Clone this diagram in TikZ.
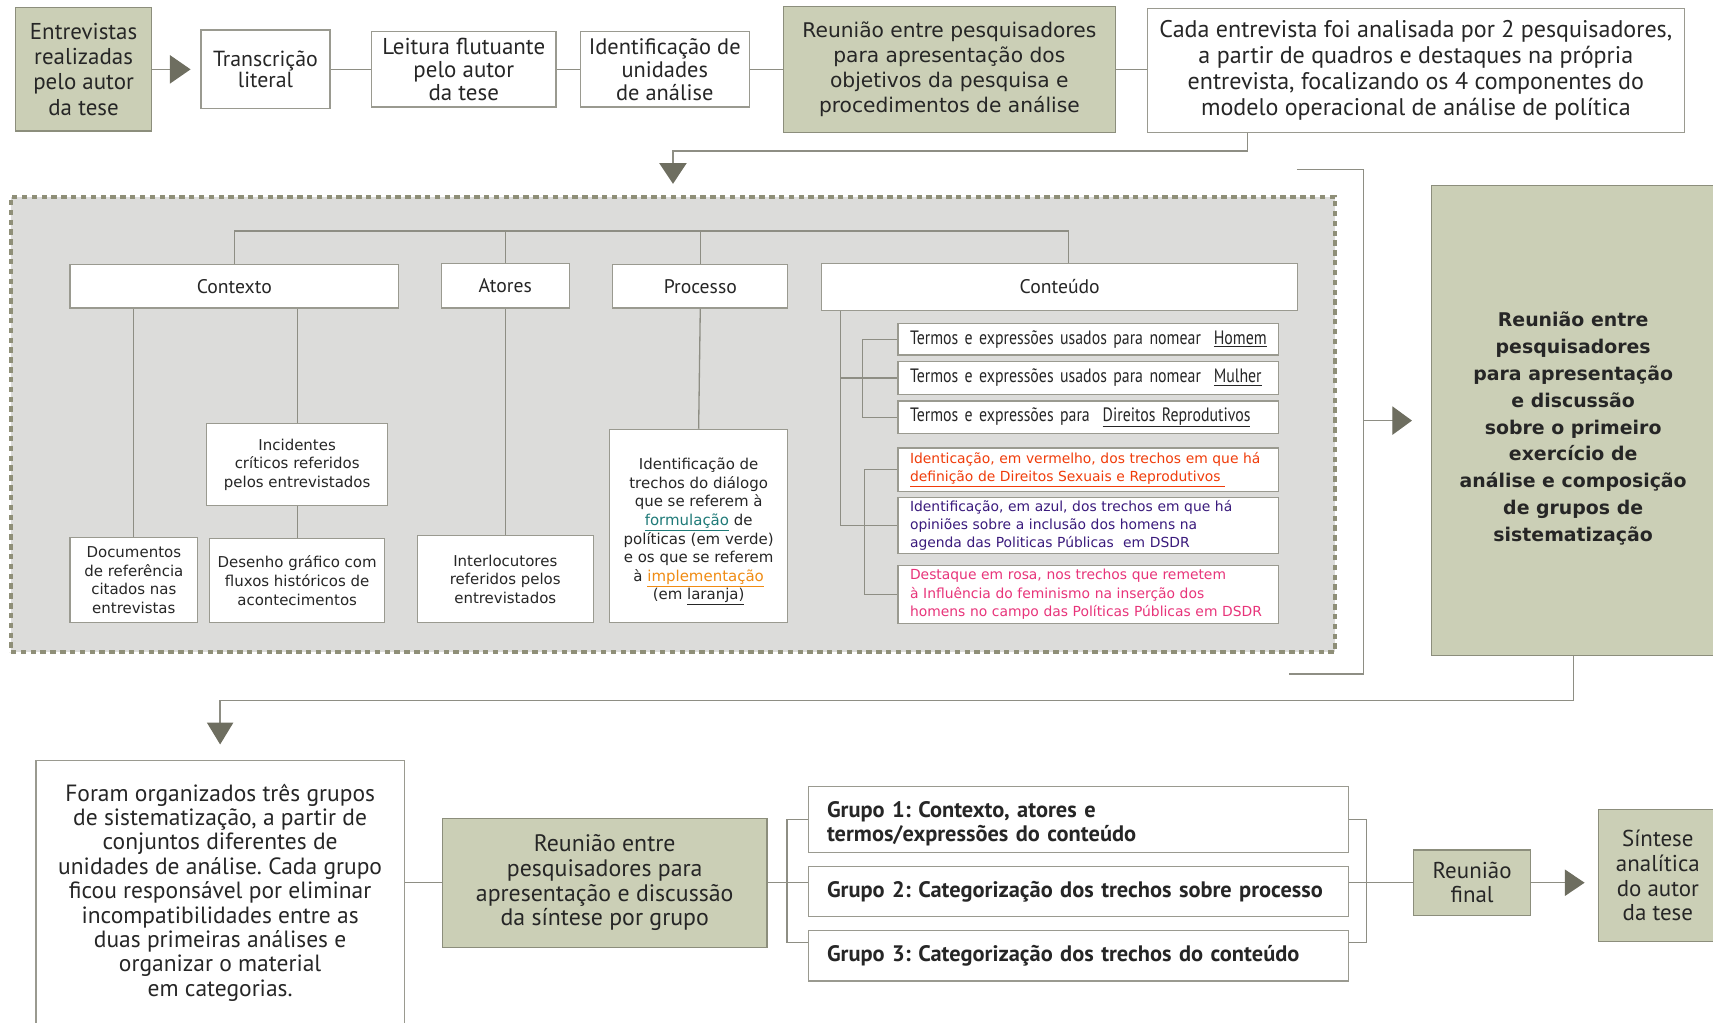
\documentclass[tikz,border=0pt]{standalone}
\usepackage{fontspec}
\setmainfont{PT Sans}
\newfontfamily\vfont{DejaVu Sans}
\newfontfamily\narrowfont[FakeStretch=0.82]{PT Sans}
\usetikzlibrary{arrows.meta}
\newcommand{\setfs}[2]{\fontsize{#1}{#2}\selectfont}
\frenchspacing
\definecolor{boxgreen}{HTML}{CBCFB6}
\definecolor{greenedge}{HTML}{8C8E7C}
\definecolor{boxedge}{HTML}{9A9A90}
\definecolor{linegray}{HTML}{8E8E84}
\definecolor{tipgray}{HTML}{6E6E60}
\definecolor{panegray}{HTML}{DCDCDA}
\definecolor{panedash}{HTML}{8F8F78}
\definecolor{inkdark}{HTML}{262626}
\definecolor{txtred}{HTML}{F03C0A}
\definecolor{txtpurple}{HTML}{3A1A7C}
\definecolor{txtpink}{HTML}{E8347A}
\definecolor{txtteal}{HTML}{1F7A78}
\definecolor{txtorange}{HTML}{F08C14}
\tikzset{
  wbox/.style={draw=boxedge,fill=white,line width=1.1pt,inner sep=0pt,align=center,text=inkdark},
  gbox/.style={draw=greenedge,fill=boxgreen,line width=1.1pt,inner sep=0pt,align=center,text=inkdark},
  lbox/.style={wbox,align=left,inner xsep=11pt,text width=326pt},
  gtext/.style={wbox,align=left,inner xsep=17pt,text width=460pt,font=\bfseries\setfs{20.5}{22}},
  link/.style={draw=linegray,line width=1.2pt},
  bigtip/.style={-{Triangle[length=19pt,width=26pt,color=tipgray]}}
}
\begin{document}
\begin{tikzpicture}[x=1pt,y=-1pt]
\useasboundingbox (0,0) rectangle (1568,936.4);
% first row
\node[gbox,minimum width=125pt,minimum height=113pt,font=\setfs{21}{23}] (ent) at (76.5,63.5) {Entrevistas\\realizadas\\pelo autor\\da tese};
\node[wbox,minimum width=118pt,minimum height=72pt,font=\setfs{20}{19.5}] (transc) at (243,63.5) {Transcrição\\literal};
\node[wbox,minimum width=169pt,minimum height=69pt,font=\setfs{21}{21}] (leit) at (424.5,63.5) {Leitura flutuante\\pelo autor\\da tese};
\node[wbox,minimum width=155pt,minimum height=69pt,font=\setfs{20.5}{21}] (ident) at (608.5,63.5) {Identificação de\\unidades\\de análise};
\node[gbox,minimum width=304pt,minimum height=115pt,font=\vfont\setfs{18.5}{23}] (reun1) at (869,63.5) {Reunião entre pesquisadores\\para apresentação dos\\objetivos da pesquisa e\\procedimentos de análise};
\node[wbox,minimum width=492pt,minimum height=113pt,font=\setfs{22}{23.7}] (cada) at (1296,64.5) {Cada entrevista foi analisada por 2 pesquisadores,\\a partir de quadros e destaques na própria\\entrevista, focalizando os 4 componentes do\\modelo operacional de análise de política};
\draw[link,bigtip] (ent.east) -- ([xshift=-9pt]transc.west);
\draw[link] (transc.east) -- (leit.west);
\draw[link] (leit.east) -- (ident.west);
\draw[link] (ident.east) -- (reun1.west);
\draw[link] (reun1.east) -- ([yshift=1pt]cada.west);
% analysis pane
\node[draw=panedash,fill=panegray,line width=3.5pt,dash pattern=on 5pt off 4pt,minimum width=1212pt,minimum height=417pt,inner sep=0pt] (pane) at (616,388.5) {};
\draw[link,-{Triangle[length=19pt,width=25pt,color=tipgray]}] ([xshift=-154pt]cada.south) |- ([yshift=40pt]pane.north) -- ([yshift=10pt]pane.north);
\node[wbox,minimum width=301pt,minimum height=40pt,font=\setfs{18}{20}] (ctx) at (214.5,262) {Contexto};
\node[wbox,minimum width=117pt,minimum height=41pt,font=\setfs{18}{20}] (atores) at (462.5,261.5) {Atores};
\node[wbox,minimum width=160pt,minimum height=40pt,font=\setfs{18}{20}] (proc) at (641,262) {Processo};
\node[wbox,minimum width=436pt,minimum height=43pt,font=\setfs{18}{20}] (cont) at (970,262.5) {Conteúdo};
\node[wbox,minimum width=166pt,minimum height=75pt,font=\vfont\setfs{13.7}{17}] (inc) at (272,425.5) {Incidentes\\críticos referidos\\pelos entrevistados};
\node[wbox,minimum width=117pt,minimum height=78pt,font=\vfont\setfs{13.7}{17}] (doc) at (122.5,531) {Documentos\\de referência\\citados nas\\entrevistas};
\node[wbox,minimum width=160pt,minimum height=77pt,font=\vfont\setfs{13.7}{17}] (des) at (272,531.5) {Desenho gráfico com\\fluxos históricos de\\acontecimentos};
\node[wbox,minimum width=161pt,minimum height=80pt,font=\vfont\setfs{13.7}{17}] (interl) at (462.5,530) {Interlocutores\\referidos pelos\\entrevistados};
\node[wbox,minimum width=163pt,minimum height=177pt,font=\vfont\setfs{13.7}{17}] (procbox) at (639.5,481.5) {\rule{0pt}{21pt}Identificação de\\trechos do diálogo\\que se referem à\\{\color{txtteal}\underline{formulação}} de\\políticas (em verde)\\e os que se referem\\à {\color{txtorange}\underline{implementação}}\\(em \underline{laranja)}};
\node[lbox,minimum height=29pt,font=\narrowfont\setfs{17.7}{18}] (tA) at (996,310.5) {\mbox{Termos e expressões usados para nomear\ \ \underline{Homem}}};
\node[lbox,minimum height=30pt,font=\narrowfont\setfs{17.7}{18}] (tB) at (996,346) {\mbox{Termos e expressões usados para nomear\ \ \underline{Mulher}}};
\node[lbox,minimum height=30pt,font=\narrowfont\setfs{17.7}{18}] (tC) at (996,382) {\mbox{Termos e expressões para\ \ \underline{Direitos Reprodutivos}}};
\node[lbox,minimum height=40pt,font=\vfont\setfs{12.7}{16.7},text=txtred] (tD) at (996,430) {Identicação, em vermelho, dos trechos em que há\\\underline{definição de Direitos Sexuais e Reprodutivos\ }};
\node[lbox,minimum height=51pt,font=\vfont\setfs{12.7}{16.7},text=txtpurple] (tE) at (996,481) {Identificação, em azul, dos trechos em que há\\opiniões sobre a inclusão dos homens na\\agenda das Politicas Públicas\ \ em DSDR};
\node[lbox,minimum height=53pt,font=\vfont\setfs{12.7}{16.7},text=txtpink] (tF) at (996,544) {Destaque em rosa, nos trechos que remetem\\à Influência do feminismo na inserção dos\\homens no campo das Políticas Públicas em DSDR};
\draw[link] (ctx.north) -- ++(0,-30) -| ([xshift=8pt]cont.north);
\draw[link] (atores.north) -- ++(0,-29.5);
\draw[link] (proc.north) -- ++(0,-30);
\draw[link] (doc.north) -- (doc.north |- ctx.south);
\draw[link] (inc.north) -- (inc.north |- ctx.south);
\draw[link] (inc.south) -- (des.north);
\draw[link] (atores.south) -- (interl.north);
\draw[link] (proc.south) -- (procbox.north);
\coordinate (trunk) at ([xshift=18pt]cont.south west);
\draw[link] (trunk) |- (tE.west);
\draw[link] (trunk |- tB.west) -- (tB.west);
\draw[link] (tA.west) -- ++(-32,0) |- (tC.west);
\draw[link] (tD.west) -- ++(-30,0) |- (tF.west);
% second meeting
\node[gbox,minimum width=260pt,minimum height=430pt,font=\vfont\bfseries\setfs{17.3}{24.5}] (reun3) at (1440,385) {\rule{0pt}{28pt}Reunião entre\\pesquisadores\\para apresentação\\e discussão\\sobre o primeiro\\exercício de\\análise e composição\\de grupos de\\sistematização};
\draw[link] (1187,155) -| (1248,617) -- (1180,617);
\coordinate (brk) at (1248,385);
\draw[link,-{Triangle[length=18pt,width=26pt,color=tipgray]}] (brk) -- ([xshift=-17pt]reun3.west);
% last row
\node[wbox,minimum width=337pt,minimum height=242pt,font=\setfs{21.5}{22.3}] (foram) at (201.5,817) {Foram organizados três grupos\\de sistematização, a partir de\\conjuntos diferentes de\\unidades de análise. Cada grupo\\ficou responsável por eliminar\\incompatibilidades entre as\\duas primeiras análises e\\organizar o material\\em categorias.};
\draw[link,-{Triangle[length=20pt,width=24pt,color=tipgray]}] (reun3.south) |- ([yshift=54pt]foram.north) -- ([yshift=14pt]foram.north);
\node[gbox,minimum width=297pt,minimum height=118pt,font=\setfs{21.8}{22.7}] (reun2) at (553.5,808) {Reunião entre\\pesquisadores para\\apresentação e discussão\\da síntese por grupo};
\node[gtext,minimum height=60pt] (g1) at (987,750) {\rule{0pt}{22pt}Grupo 1: Contexto, atores e\\termos/expressões do conteúdo};
\node[gtext,minimum height=46pt] (g2) at (987,816) {\mbox{Grupo 2: Categorização dos trechos sobre processo}};
\node[gtext,minimum height=46pt] (g3) at (987,875) {\mbox{Grupo 3: Categorização dos trechos do conteúdo}};
\node[gbox,minimum width=107pt,minimum height=60pt,font=\setfs{21}{22}] (reunf) at (1347.5,808) {Reunião\\final};
\node[gbox,minimum width=109pt,minimum height=121pt,font=\setfs{21}{22.7}] (sint) at (1517.5,801.5) {Síntese\\analítica\\do autor\\da tese};
\draw[link] (reun2.west -| foram.east) -- (reun2.west);
\draw[link] (reun2.east) -- (reun2.east -| g2.west);
\draw[link] (g1.west) -- ++(-19,0) |- ([yshift=12pt]g3.west);
\draw[link] (g1.east) -- ++(16,0) |- ([yshift=12pt]g3.east);
\draw[link] (reun2.east -| g2.east) -- (reunf.west);
\draw[link,-{Triangle[length=18pt,width=24pt,color=tipgray]}] (reunf.east) -- ([xshift=-12pt,yshift=-6.5pt]sint.west);
\end{tikzpicture}
\end{document}
